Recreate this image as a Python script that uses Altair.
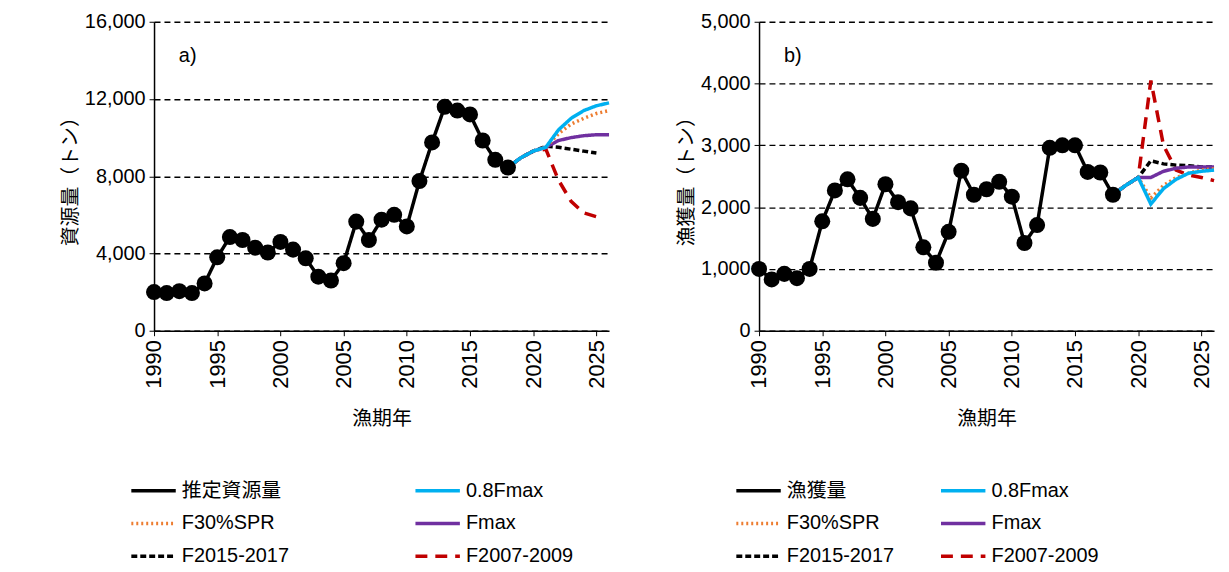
import altair as alt
import pandas as pd

years = list(range(1990, 2019))
biomass = [2000, 1950, 2050, 1950, 2450, 3800, 4850, 4700, 4300, 4050, 4600, 4200, 3750, 2800, 2600,
           3500, 5650, 4700, 5750, 6000, 5400, 7750, 9750, 11600, 11400, 11200, 9850, 8850, 8450]
catch = [1000, 830, 920, 850, 1000, 1770, 2270, 2450, 2150, 1810, 2370, 2080, 1980, 1350, 1100,
         1600, 2590, 2200, 2290, 2410, 2170, 1420, 1710, 2960, 3000, 3000, 2570, 2560, 2200]

proj_years = list(range(2018, 2027))
proj_a = {
    "0.8Fmax":    [8450, 8950, 9300, 9500, 10400, 11000, 11400, 11650, 11800],
    "F30%SPR":    [8450, 8950, 9300, 9500, 10200, 10700, 11000, 11250, 11400],
    "Fmax":       [8450, 8950, 9300, 9500, 9850, 10000, 10100, 10150, 10150],
    "F2015-2017": [8450, 8950, 9300, 9550, 9500, 9400, 9300, 9200, None],
    "F2007-2009": [8450, 8950, 9300, 9400, 7800, 6700, 6100, 5900, None],
}
proj_b = {
    "0.8Fmax":    [2200, 2350, 2480, 2050, 2300, 2450, 2550, 2580, 2600],
    "F30%SPR":    [2200, 2350, 2480, 2150, 2350, 2480, 2550, 2600, 2620],
    "Fmax":       [2200, 2350, 2480, 2480, 2580, 2630, 2650, 2650, 2650],
    "F2015-2017": [2200, 2350, 2480, 2750, 2700, 2680, 2670, 2650, 2650],
    "F2007-2009": [2200, 2350, 2480, 4050, 3000, 2600, 2520, 2480, 2430],
}

series = ["0.8Fmax", "F30%SPR", "Fmax", "F2015-2017", "F2007-2009"]
style = {
    "0.8Fmax": ("#00b0f0", [1, 0]),
    "F30%SPR": ("#ed7d31", [2, 3]),
    "Fmax": ("#7030a0", [1, 0]),
    "F2015-2017": ("#000000", [6, 3]),
    "F2007-2009": ("#c00000", [12, 8]),
}
font = "Liberation Sans, Noto Sans CJK JP"


def panel(obs, proj, obs_name, ymax, ystep, ytitle, tag, colpad):
    rows = [{"year": y, "v": v, "s": obs_name} for y, v in zip(years, obs)]
    for s in reversed(series):
        rows += [{"year": y, "v": v, "s": s} for y, v in zip(proj_years, proj[s]) if v is not None]
    df = pd.DataFrame(rows)
    # legend fills column by column
    order = [obs_name, "F30%SPR", "F2015-2017", "0.8Fmax", "Fmax", "F2007-2009"]
    cols = ["#000000"] + [style[s][0] for s in order[1:]]
    dsh = [[1, 0]] + [style[s][1] for s in order[1:]]
    color = alt.Color("s:N", scale=alt.Scale(domain=order, range=cols),
                      legend=alt.Legend(title=None, orient="none", legendX=-25, legendY=460,
                                        columns=2, symbolType="stroke", clipHeight=24,
                                        symbolStrokeWidth=3.5, symbolSize=2000, labelFontSize=20,
                                        labelFont=font, columnPadding=colpad, rowPadding=9,
                                        labelLimit=300))
    dash = alt.StrokeDash("s:N", scale=alt.Scale(domain=order, range=dsh), legend=None)
    x = alt.X("year:Q", scale=alt.Scale(domain=[1990, 2026], nice=False),
              axis=alt.Axis(values=list(range(1990, 2026, 5)), format="d", labelAngle=270,
                            labelAlign="right", labelBaseline="middle", title="漁期年", grid=False,
                            labelFontSize=22, titlePadding=20))
    y = alt.Y("v:Q", scale=alt.Scale(domain=[0, ymax], nice=False),
              axis=alt.Axis(values=list(range(0, ymax + 1, ystep)), format=",.0f", title=ytitle,
                            gridDash=[6, 4], gridColor="#000000", gridWidth=1.3, labelFontSize=20))
    lines = alt.Chart(df).mark_line(strokeWidth=3.5).encode(
        x=x, y=y, color=color, strokeDash=dash, detail="s:N")
    pts = alt.Chart(df[df.s == obs_name]).mark_point(filled=True, size=260, opacity=1).encode(
        x="year:Q", y="v:Q", color=alt.value("#000000"))
    label = alt.Chart(pd.DataFrame({"t": [tag]})).mark_text(
        fontSize=20, font=font, align="left").encode(text="t:N", x=alt.value(25), y=alt.value(35))
    return (lines + pts + label).properties(width=458, height=311)


a = panel(biomass, proj_a, "推定資源量", 16000, 4000, "資源量（トン）", "a)", 125)
b = panel(catch, proj_b, "漁獲量", 5000, 1000, "漁獲量（トン）", "b)", 45)

chart = alt.hconcat(a, b, spacing=60).resolve_scale(color="independent", strokeDash="independent").configure_axis(
    labelFont=font, titleFont=font, titleFontSize=20, labelColor="#000",
    titleColor="#000", titleFontWeight="normal", domainColor="#000", tickColor="#000",
    domainWidth=1.5, labelPadding=4
).configure_view(stroke=None).properties(
    padding={"left": 52, "top": 2, "right": 0, "bottom": 0})

chart.save("out.html", embed_options={"renderer": "svg", "actions": False})
